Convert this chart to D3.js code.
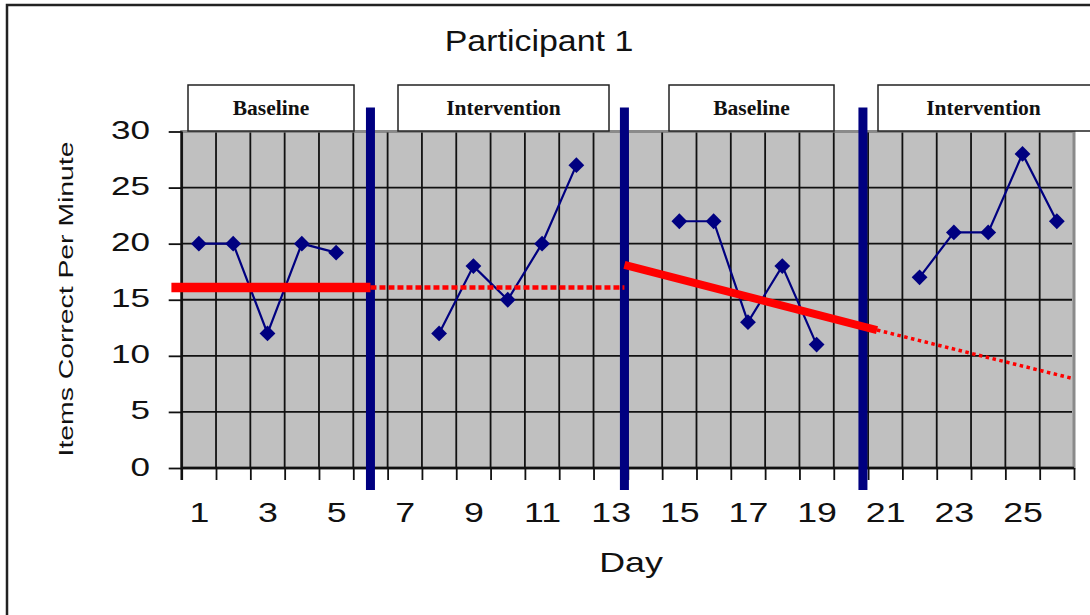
<!DOCTYPE html>
<html>
<head>
<meta charset="utf-8">
<script src="https://cdn.jsdelivr.net/npm/d3@7/dist/d3.min.js"></script>
<style>
  body { margin: 0; background: #fff; }
  svg { display: block; }
</style>
</head>
<body>
<div id="Area"></div>
<script>
// data
var days = d3.range(1, 27);
var scores = [20, 20, 12, 20, 19.2, null, null, 12, 18, 15, 20, 27, null, null,
  22, 22, 13, 18, 11, null, null, 17, 21, 21, 28, 22];
var yTicks = [0, 5, 10, 15, 20, 25, 30];
var xLabels = [1, 3, 5, 7, 9, 11, 13, 15, 17, 19, 21, 23, 25];
var phaseNames = ["Baseline", "Intervention", "Baseline", "Intervention"];
var phaseLines = [6, 13.4, 20.35];
// trend lines: solid part, then its dotted projection
var trendSolid = [[[0.2, 16.1], [6, 16.1]], [[13.4, 18.1], [20.76, 12.3]]];
var trendDotted = [[[6, 16.1], [13.4, 16.1]], [[20.76, 12.3], [26.5, 7.95]]];

var W = 1090, H = 615;
var plot = { left: 181.7, right: 1074, top: 131.5, bottom: 468 };
// label boxes above the plot (pixels)
var boxX = [[188, 354], [398, 609], [669, 834], [878, 1092]];

var svg = d3.select("#Area").append("svg")
  .attr("width", W)
  .attr("height", H);

// outer frame
svg.append("rect")
  .attr("x", 7).attr("y", 5)
  .attr("width", 1120).attr("height", 700)
  .attr("fill", "none")
  .attr("stroke", "#222")
  .attr("stroke-width", 2.5);

var x = d3.scaleLinear().domain([0.5, 26.5]).range([plot.left, plot.right]);
var y = d3.scaleLinear().domain([0, 30]).range([plot.bottom, plot.top]);

// plot area
svg.append("rect")
  .attr("x", plot.left).attr("y", plot.top)
  .attr("width", plot.right - plot.left)
  .attr("height", plot.bottom - plot.top)
  .attr("fill", "#c0c0c0")
  .attr("stroke", "#8a8a8a")
  .attr("stroke-width", 3);

var bounds = d3.range(1.5, 26.5, 1);
svg.append("g").selectAll("line")
  .data(bounds)
  .enter().append("line")
  .attr("x1", function (d) { return x(d); })
  .attr("x2", function (d) { return x(d); })
  .attr("y1", plot.top + 1)
  .attr("y2", plot.bottom)
  .attr("stroke", "#111")
  .attr("stroke-width", 1.8);

svg.append("g").selectAll("line")
  .data(yTicks.slice(1, 6))
  .enter().append("line")
  .attr("x1", plot.left)
  .attr("x2", plot.right - 2)
  .attr("y1", function (d) { return y(d); })
  .attr("y2", function (d) { return y(d); })
  .attr("stroke", "#111")
  .attr("stroke-width", 1.8);

// y axis
var yAxis = svg.append("g")
  .attr("transform", "translate(" + plot.left + ",0)")
  .call(d3.axisLeft(y).tickValues(yTicks).tickSize(13).tickSizeOuter(0));
yAxis.select(".domain").attr("stroke", "#111").attr("stroke-width", 2.5)
  .attr("d", "M0," + (plot.bottom + 12) + "V" + plot.top);
yAxis.selectAll(".tick line").attr("stroke", "#111").attr("stroke-width", 1.8);
yAxis.selectAll(".tick text")
  .attr("x", null).attr("dy", null)
  .attr("transform", "translate(-31.7,7) scale(1.35,1)")
  .attr("text-anchor", "end")
  .style("font-family", "'Liberation Sans', Arial, sans-serif")
  .style("font-size", "26px")
  .attr("fill", "#111");

// x axis: ticks on the boundaries, labels on odd days
var xAxis = svg.append("g")
  .attr("transform", "translate(0," + plot.bottom + ")")
  .call(d3.axisBottom(x).tickValues(d3.range(0.5, 27, 1)).tickSize(12).tickSizeOuter(0).tickFormat(""));
xAxis.select(".domain").attr("stroke", "#111").attr("stroke-width", 2.5)
  .attr("d", "M" + plot.left + ",0H" + plot.right);
xAxis.selectAll(".tick line").attr("stroke", "#111").attr("stroke-width", 1.8);

var xLab = svg.append("g")
  .attr("transform", "translate(0," + plot.bottom + ")")
  .call(d3.axisBottom(x).tickValues(xLabels).tickSize(0).tickFormat(d3.format("d")));
xLab.select(".domain").remove();
xLab.selectAll(".tick text")
  .attr("y", null).attr("dy", null)
  .attr("transform", "translate(0,54) scale(1.3,1)")
  .style("font-family", "'Liberation Sans', Arial, sans-serif")
  .style("font-size", "27.5px")
  .attr("fill", "#111");

// data series
var pts = days.map(function (d, i) { return { day: d, v: scores[i] }; });
var line = d3.line()
  .defined(function (d) { return d.v != null; })
  .x(function (d) { return x(d.day); })
  .y(function (d) { return y(d.v); });

svg.append("path")
  .datum(pts)
  .attr("d", line)
  .attr("fill", "none")
  .attr("stroke", "#000080")
  .attr("stroke-width", 2.2);

svg.append("g").selectAll("path")
  .data(pts.filter(function (d) { return d.v != null; }))
  .enter().append("path")
  .attr("d", d3.symbol().type(d3.symbolSquare).size(125))
  .attr("transform", function (d) { return "translate(" + x(d.day) + "," + y(d.v) + ") rotate(45)"; })
  .attr("fill", "#000080");

// phase change lines
svg.append("g").selectAll("line")
  .data(phaseLines)
  .enter().append("line")
  .attr("x1", function (d) { return x(d); })
  .attr("x2", function (d) { return x(d); })
  .attr("y1", y(30) - 24)
  .attr("y2", y(0) + 22)
  .attr("stroke", "#000080")
  .attr("stroke-width", 9);

// trend lines
var tl = d3.line()
  .x(function (d) { return x(d[0]); })
  .y(function (d) { return y(d[1]); });

svg.append("g").selectAll("path")
  .data(trendDotted)
  .enter().append("path")
  .attr("d", tl)
  .attr("fill", "none")
  .attr("stroke", "#ff0000")
  .attr("stroke-width", function (d, i) { return i == 0 ? 4.5 : 3.5; })
  .attr("stroke-dasharray", function (d, i) { return i == 0 ? "6,3" : "3.5,3.5"; });

svg.append("g").selectAll("path")
  .data(trendSolid)
  .enter().append("path")
  .attr("d", tl)
  .attr("fill", "none")
  .attr("stroke", "#ff0000")
  .attr("stroke-width", function (d, i) { return i == 0 ? 9.5 : 8; });

// phase label boxes
var boxes = svg.append("g").selectAll("g")
  .data(phaseNames)
  .enter().append("g");
boxes.append("rect")
  .attr("x", function (d, i) { return boxX[i][0]; })
  .attr("y", 85)
  .attr("width", function (d, i) { return boxX[i][1] - boxX[i][0]; })
  .attr("height", 46)
  .attr("fill", "#fff")
  .attr("stroke", "#222")
  .attr("stroke-width", 1.5);
boxes.append("text")
  .attr("x", function (d, i) { return (boxX[i][0] + Math.min(boxX[i][1], 1089)) / 2; })
  .attr("y", 115)
  .attr("text-anchor", "middle")
  .style("font-family", "'Liberation Serif', 'Times New Roman', serif")
  .style("font-weight", "bold")
  .style("font-size", "21.5px")
  .attr("fill", "#111")
  .text(function (d) { return d; });

// titles
function label(txt, tx, ty, size, sx, rot) {
  svg.append("text")
    .attr("transform", "translate(" + tx + "," + ty + ")" + (rot ? " rotate(" + rot + ")" : "") + " scale(" + sx + ",1)")
    .attr("text-anchor", "middle")
    .style("font-family", "'Liberation Sans', Arial, sans-serif")
    .style("font-size", size + "px")
    .attr("fill", "#111")
    .text(txt);
}
label("Participant 1", 539, 51, 29, 1.17);
label("Day", 631, 572, 28, 1.28);
label("Items Correct Per Minute", 73.3, 299, 21, 1.35, -90);
</script>
</body>
</html>
